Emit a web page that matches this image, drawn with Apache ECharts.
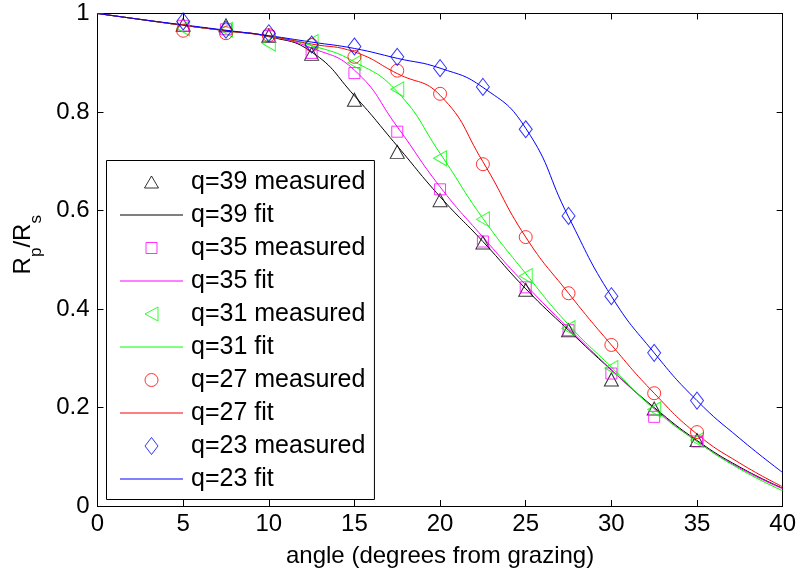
<!DOCTYPE html>
<html>
<head>
<meta charset="utf-8">
<script src="https://cdn.jsdelivr.net/npm/echarts@6/dist/echarts.min.js"></script>
<style>
  html, body { margin: 0; padding: 0; background: #fff; }
  #chart { width: 799px; height: 573px; }
</style>
</head>
<body>
<div id="chart"></div>
<script>
// ---- data ----
const angles = [5, 7.5, 10, 12.5, 15, 17.5, 20, 22.5, 25, 27.5, 30, 32.5, 35];
const q39Measured = [0.977, 0.976, 0.955, 0.918, 0.825, 0.719, 0.621, 0.535, 0.439, 0.357, 0.257, 0.198, 0.134];
const q35Measured = [0.975, 0.968, 0.954, 0.92, 0.879, 0.76, 0.643, 0.537, 0.444, 0.357, 0.269, 0.181, 0.131];
const q31Measured = [0.970, 0.967, 0.939, 0.942, 0.900, 0.846, 0.706, 0.582, 0.467, 0.361, 0.280, 0.196, 0.134];
const q27Measured = [0.965, 0.960, 0.956, 0.936, 0.912, 0.884, 0.837, 0.694, 0.546, 0.432, 0.327, 0.229, 0.150];
const q23Measured = [0.984, 0.967, 0.960, 0.937, 0.933, 0.912, 0.889, 0.851, 0.765, 0.589, 0.426, 0.311, 0.214];

const fitAngles = [0, 2.5, 5, 7.5, 10, 12.5, 15, 17.5, 20, 22.5, 25, 27.5, 30, 32.5, 35, 37.5, 40];
const q39Fit = [1, 0.988, 0.976, 0.965, 0.953, 0.922, 0.833, 0.731, 0.628, 0.537, 0.441, 0.357, 0.276, 0.200, 0.133, 0.079, 0.036];
const q35Fit = [1, 0.988, 0.976, 0.965, 0.954, 0.930, 0.885, 0.770, 0.648, 0.546, 0.449, 0.361, 0.277, 0.198, 0.131, 0.077, 0.035];
const q31Fit = [1, 0.988, 0.976, 0.965, 0.954, 0.935, 0.902, 0.841, 0.716, 0.584, 0.472, 0.368, 0.282, 0.197, 0.131, 0.075, 0.031];
const q27Fit = [1, 0.988, 0.976, 0.965, 0.954, 0.938, 0.922, 0.878, 0.834, 0.699, 0.546, 0.432, 0.327, 0.229, 0.146, 0.087, 0.039];
const q23Fit = [1, 0.988, 0.977, 0.966, 0.955, 0.942, 0.929, 0.909, 0.889, 0.850, 0.767, 0.587, 0.426, 0.311, 0.214, 0.137, 0.068];

const xTicks = [0, 5, 10, 15, 20, 25, 30, 35, 40];
const yTicks = [0, 0.2, 0.4, 0.6, 0.8, 1];

// legend icon frames are 63 x 18 (the leading moves fix the bounding box)
const FRAME = 'M0,0 M63,18 ';
const seriesDefs = [
  { name: 'q=39', color: '#000000', measured: q39Measured, fit: q39Fit, symbol: 'triangle', size: [14, 13], rotate: 0,
    legendIcon: 'path://' + FRAME + 'M31.5,3 L38.5,15 L24.5,15 Z' },
  { name: 'q=35', color: '#ff00ff', measured: q35Measured, fit: q35Fit, symbol: 'rect', size: [11, 11], rotate: 0,
    legendIcon: 'path://' + FRAME + 'M26,3.5 L37,3.5 L37,14.5 L26,14.5 Z' },
  { name: 'q=31', color: '#00ff00', measured: q31Measured, fit: q31Fit, symbol: 'triangle', size: [15, 13], rotate: 90,
    legendIcon: 'path://' + FRAME + 'M25,9 L38,2 L38,16 Z' },
  { name: 'q=27', color: '#ff0000', measured: q27Measured, fit: q27Fit, symbol: 'circle', size: 13, rotate: 0,
    legendIcon: 'path://' + FRAME + 'M38,9 A6.5,6.5 0 1 1 25,9 A6.5,6.5 0 1 1 38,9 Z' },
  { name: 'q=23', color: '#0000ff', measured: q23Measured, fit: q23Fit, symbol: 'diamond', size: [13, 17], rotate: 0,
    legendIcon: 'path://' + FRAME + 'M31.5,0.5 L38,9 L31.5,17.5 L25,9 Z' }
];
const lineIcon = 'path://' + FRAME + 'M0,9 L63,9';

// ---- chart ----
const FONT = '"Liberation Sans", Arial, Helvetica, sans-serif';
const chart = echarts.init(document.getElementById('chart'), null, { renderer: 'canvas' });

const series = [];
const legendData = [];
seriesDefs.forEach(d => {
  series.push({
    name: d.name + ' measured',
    type: 'scatter',
    xAxisIndex: 0, yAxisIndex: 0,
    symbol: d.symbol,
    symbolSize: d.size,
    symbolRotate: d.rotate,
    itemStyle: { color: 'rgba(0,0,0,0)', borderColor: d.color, borderWidth: 1 },
    emphasis: { disabled: true },
    data: angles.map((a, i) => [a, d.measured[i]]),
    z: 3
  });
  series.push({
    name: d.name + ' fit',
    type: 'line',
    xAxisIndex: 0, yAxisIndex: 0,
    symbol: 'none',
    showSymbol: false,
    smooth: 0.5,
    lineStyle: { color: d.color, width: 1 },
    itemStyle: { color: d.color },
    emphasis: { disabled: true },
    data: fitAngles.map((a, i) => [a, d.fit[i]]),
    z: 2
  });
  legendData.push({
    name: d.name + ' measured', icon: d.legendIcon,
    itemStyle: { color: 'rgba(0,0,0,0)', borderColor: d.color, borderWidth: 1 }
  });
  legendData.push({
    name: d.name + ' fit', icon: lineIcon,
    itemStyle: { color: 'rgba(0,0,0,0)', borderColor: d.color, borderWidth: 1 }
  });
});

const axisCommon = {
  axisLine: { show: true, onZero: false, lineStyle: { color: '#000', width: 1 } },
  axisTick: { show: true, inside: true, length: 6, lineStyle: { color: '#000', width: 1 } },
  splitLine: { show: false }
};

const option = {
  animation: false,
  backgroundColor: '#fff',
  textStyle: { fontFamily: FONT },
  grid: { left: 97.5, right: 14, top: 13.5, bottom: 67, containLabel: false },
  xAxis: [
    Object.assign({}, axisCommon, {
      type: 'value', position: 'bottom', min: 0, max: 40, interval: 5,
      axisTick: Object.assign({}, axisCommon.axisTick, { customValues: xTicks }),
      axisLabel: { fontSize: 24, color: '#000', margin: 6, fontFamily: FONT, customValues: xTicks },
      name: 'angle (degrees from grazing)', nameLocation: 'middle', nameGap: 38,
      nameTextStyle: { fontSize: 24, color: '#000', fontFamily: FONT }
    }),
    Object.assign({}, axisCommon, {
      type: 'value', position: 'top', min: 0, max: 40, interval: 5,
      axisTick: Object.assign({}, axisCommon.axisTick, { customValues: xTicks }),
      axisLabel: { show: false }
    })
  ],
  yAxis: [
    Object.assign({}, axisCommon, {
      type: 'value', position: 'left', min: 0, max: 1, interval: 0.2,
      axisTick: Object.assign({}, axisCommon.axisTick, { customValues: yTicks }),
      axisLabel: { fontSize: 24, color: '#000', margin: 8, fontFamily: FONT, customValues: yTicks },
      name: '{n|R}{s|p}{n|/R}{s|s}', nameLocation: 'middle', nameGap: 52, nameRotate: 90,
      nameTextStyle: {
        color: '#000', fontFamily: FONT, padding: [0, 0, 0, 30],
        rich: {
          n: { fontSize: 24, color: '#000', fontFamily: FONT, lineHeight: 34, verticalAlign: 'top' },
          s: { fontSize: 17, color: '#000', fontFamily: FONT, lineHeight: 34, verticalAlign: 'bottom' }
        }
      }
    }),
    Object.assign({}, axisCommon, {
      type: 'value', position: 'right', min: 0, max: 1, interval: 0.2,
      axisTick: Object.assign({}, axisCommon.axisTick, { customValues: yTicks }),
      axisLabel: { show: false }
    })
  ],
  legend: {
    orient: 'vertical',
    left: 106.5, top: 160.5,
    itemWidth: 63, itemHeight: 18, itemGap: 8,
    padding: [9, 9, 8, 13],
    borderColor: '#000', borderWidth: 1, borderRadius: 0,
    backgroundColor: '#fff',
    symbolRotate: 0,
    symbolKeepAspect: true,
    selectedMode: false,
    textStyle: { fontSize: 25, color: '#000', fontFamily: FONT, padding: [0, 0, 0, 3] },
    data: legendData
  },
  series: series
};
chart.setOption(option);
</script>
</body>
</html>
